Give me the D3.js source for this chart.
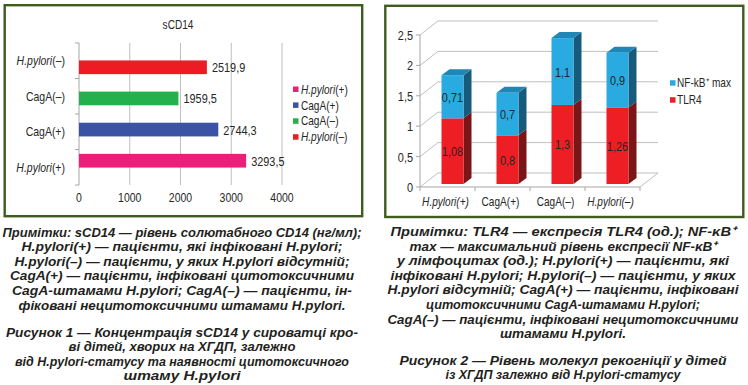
<!DOCTYPE html>
<html lang="uk">
<head>
<meta charset="UTF-8">
<title>sCD14, TLR4, NF-kB</title>
<script src="https://cdnjs.cloudflare.com/ajax/libs/d3/7.8.5/d3.min.js"></script>
<style>
    body { margin: 0; background: #fff; }
    svg { display: block; }
</style>
</head>
<body>
<svg id="fig" width="748" height="385"></svg>

<script>
    // --- data, figure 1 (sCD14, ng/ml)
    var groups1 = ['H.pylori(+)', 'CagA(+)', 'CagA(–)', 'H.pylori(–)'];
    var scd14 = [3293.5, 2744.3, 1959.5, 2519.9];
    var colors1 = ['#ed1e79', '#3a53a4', '#22b14c', '#ed1c24'];
    var ticks1 = [0, 1000, 2000, 3000, 4000];

    // --- data, figure 2 (TLR4 + NF-kB max, units)
    var groups2 = ['H.pylori(+)', 'CagA(+)', 'CagA(–)', 'H.pylori(–)'];
    var tlr4 = [1.08, 0.8, 1.3, 1.26];
    var nfkb = [0.71, 0.7, 1.1, 0.9];
    var ticks2 = [0, 0.5, 1, 1.5, 2, 2.5];

    var notes1 = [
        'Примітки: sCD14 — рівень солютабного CD14 (нг/мл);',
        'H.pylori(+) — пацієнти, які інфіковані H.pylori;',
        'H.pylori(–) — пацієнти, у яких H.pylori відсутній;',
        'CagA(+) — пацієнти, інфіковані цитотоксичними',
        'CagA-штамами H.pylori; CagA(–) — пацієнти, ін-',
        'фіковані нецитотоксичними штамами H.pylori.'
    ];
    var title1 = [
        'Рисунок 1 — Концентрація sCD14 у сироватці кро-',
        'ві дітей, хворих на ХГДП, залежно',
        'від H.pylori-статусу та наявності цитотоксичного',
        'штаму H.pylori'
    ];
    var notes2 = [
        'Примітки: TLR4 — експресія TLR4 (од.); NF-κB⁺',
        'max — максимальний рівень експресії NF-κB⁺',
        'у лімфоцитах (од.); H.pylori(+) — пацієнти, які',
        'інфіковані H.pylori; H.pylori(–) — пацієнти, у яких',
        'H.pylori відсутній; CagA(+) — пацієнти, інфіковані',
        'цитотоксичними CagA-штамами H.pylori;',
        'CagA(–) — пацієнти, інфіковані нецитотоксичними',
        'штамами H.pylori.'
    ];
    var title2 = [
        'Рисунок 2 — Рівень молекул рекогніції у дітей',
        'із ХГДП залежно від H.pylori-статусу'
    ];

    // measured line widths of the printed captions
    var notes1W = [359, 321, 335, 344, 340, 327];
    var title1W = [352, 227, 334, 117];
    var notes2W = [345, 307, 332, 345, 351, 274, 351, 126];
    var title2W = [327, 235];

    var FONT = '"Liberation Sans", Arial, sans-serif';
    var INK = '#231f20';
    var GRID = '#bfbfbf';
    var NARROW = 0.84; // the chart font is a condensed face

    var svg = d3.select('#fig');

    init();

    function init() {
        renderFrames();
        renderChart1();
        renderChart2();
        renderCaption(notes1, notes1W, 182, 236.5);
        renderCaption(title1, title1W, 182, 336.5);
        renderCaption(notes2, notes2W, 563, 236);
        renderCaption(title2, title2W, 563, 364.5);
    }

    function fmt(v) {
        return String(v).replace('.', ',');
    }

    // squeeze text horizontally to imitate the narrow face
    function narrow(sel) {
        sel.each(function () {
            var t = d3.select(this);
            var x = +t.attr('x') || 0;
            t.attr('x', x / NARROW).attr('transform', 'scale(' + NARROW + ',1)');
        });
    }

    function groupLabel(sel, allItalic) {
        sel.each(function (d) {
            var t = d3.select(this);
            if (d.indexOf('H.pylori') === 0) {
                t.append('tspan').attr('font-style', 'italic').text('H.pylori');
                t.append('tspan').attr('font-style', allItalic ? 'italic' : 'normal').text(d.slice(8));
            } else {
                t.append('tspan').text(d);
            }
        });
    }

    function renderFrames() {
        svg.append('rect')
            .attr('x', 4.7).attr('y', 5.2).attr('width', 357.5).attr('height', 211)
            .attr('fill', 'none').attr('stroke', '#3d5c1e').attr('stroke-width', 2.4);
        svg.append('rect')
            .attr('x', 385.3).attr('y', 5.8).attr('width', 358).attr('height', 211.2)
            .attr('fill', 'none').attr('stroke', '#3d5c1e').attr('stroke-width', 2.4);
    }

    function renderChart1() {
        var x = d3.scaleLinear().domain([0, 4000]).range([79, 282]);
        var y = d3.scaleBand().domain(groups1).range([185, 43]).padding(0.56);
        var yOuter = d3.scaleBand().domain(groups1).range([185, 43]);

        var g = svg.append('g').attr('font-family', FONT).attr('fill', '#262626');

        g.append('text')
            .attr('x', 178).attr('y', 29.5)
            .attr('text-anchor', 'middle').attr('font-size', '12px')
            .text('sCD14')
            .call(narrow);

        // vertical grid
        g.selectAll('.grid').data(ticks1.slice(1)).enter()
            .append('line')
            .attr('x1', x).attr('x2', x)
            .attr('y1', 43).attr('y2', 185)
            .attr('stroke', GRID).attr('stroke-width', 1);

        // category axis
        g.append('line')
            .attr('x1', x(0)).attr('x2', x(0)).attr('y1', 43).attr('y2', 185)
            .attr('stroke', '#a6a6a6');
        var bounds = groups1.map(function (d) { return yOuter(d); }).concat([185]);
        g.selectAll('.ytick').data(bounds).enter()
            .append('line')
            .attr('x1', x(0) - 4).attr('x2', x(0))
            .attr('y1', function (d) { return d; }).attr('y2', function (d) { return d; })
            .attr('stroke', '#a6a6a6');

        g.selectAll('.xlab').data(ticks1).enter()
            .append('text')
            .attr('x', x).attr('y', 202.5)
            .attr('text-anchor', 'middle').attr('font-size', '12.5px')
            .text(function (d) { return d; })
            .call(narrow);

        g.selectAll('.ylab').data(groups1).enter()
            .append('text')
            .attr('x', 65)
            .attr('y', function (d) { return yOuter(d) + yOuter.bandwidth() / 2 + 4.5; })
            .attr('text-anchor', 'end').attr('font-size', '12.5px')
            .call(groupLabel, false)
            .call(narrow);

        g.selectAll('.bar').data(groups1).enter()
            .append('rect')
            .attr('x', x(0))
            .attr('y', function (d) { return y(d); })
            .attr('width', function (d, i) { return x(scd14[i]) - x(0); })
            .attr('height', y.bandwidth())
            .attr('fill', function (d, i) { return colors1[i]; });

        g.selectAll('.val').data(groups1).enter()
            .append('text')
            .attr('x', function (d, i) { return x(scd14[i]) + 5; })
            .attr('y', function (d) { return y(d) + y.bandwidth() / 2 + 5; })
            .attr('font-size', '13px')
            .text(function (d, i) { return fmt(scd14[i]); })
            .call(narrow);

        // legend
        var leg = g.selectAll('.leg').data(groups1).enter()
            .append('g')
            .attr('transform', function (d, i) { return 'translate(293,' + (89.3 + i * 15.9) + ')'; });
        leg.append('rect')
            .attr('x', 0).attr('y', -2.8).attr('width', 5.5).attr('height', 5.5)
            .attr('fill', function (d, i) { return colors1[i]; });
        leg.append('text')
            .attr('x', 8).attr('y', 4.3).attr('font-size', '12px')
            .call(groupLabel, false)
            .call(narrow);
    }

    function renderChart2() {
        var x = d3.scaleBand().domain(groups2).range([420, 640]).paddingInner(0.6).paddingOuter(0.3);
        var xOuter = d3.scaleBand().domain(groups2).range([420, 640]);
        var y = d3.scaleLinear().domain([0, 2.5]).range([187, 35]);

        var wall = { dx: 18, dy: -14 };   // back wall depth
        var off = { dx: 5, dy: -3 };      // bar front plane
        var dep = { dx: 8, dy: -6 };      // bar depth

        var g = svg.append('g').attr('font-family', FONT).attr('fill', '#262626');

        // back wall grid + left wall diagonals
        g.selectAll('.grid').data(ticks2).enter()
            .append('polyline')
            .attr('points', function (d) {
                return [[420, y(d)], [420 + wall.dx, y(d) + wall.dy], [640 + wall.dx, y(d) + wall.dy]].join(' ');
            })
            .attr('fill', 'none').attr('stroke', GRID).attr('stroke-width', 1);
        g.append('line')
            .attr('x1', 640).attr('y1', y(0)).attr('x2', 640 + wall.dx).attr('y2', y(0) + wall.dy)
            .attr('stroke', GRID);

        // front axes
        g.append('line').attr('x1', 420).attr('x2', 420).attr('y1', y(2.5)).attr('y2', y(0))
            .attr('stroke', '#a6a6a6');
        g.append('line').attr('x1', 420).attr('x2', 640).attr('y1', y(0)).attr('y2', y(0))
            .attr('stroke', '#a6a6a6');
        g.selectAll('.ytick').data(ticks2).enter()
            .append('line')
            .attr('x1', 416).attr('x2', 420).attr('y1', y).attr('y2', y)
            .attr('stroke', '#a6a6a6');
        var bounds = groups2.map(function (d) { return xOuter(d); }).concat([640]);
        g.selectAll('.xtick').data(bounds).enter()
            .append('line')
            .attr('x1', function (d) { return d; }).attr('x2', function (d) { return d; })
            .attr('y1', y(0)).attr('y2', y(0) + 4)
            .attr('stroke', '#a6a6a6');

        g.selectAll('.ylab').data(ticks2).enter()
            .append('text')
            .attr('x', 413).attr('y', function (d) { return y(d) + 5; })
            .attr('text-anchor', 'end').attr('font-size', '13px')
            .text(fmt)
            .call(narrow);

        g.selectAll('.xlab').data(groups2).enter()
            .append('text')
            .attr('x', function (d) { return xOuter(d) + xOuter.bandwidth() / 2 - 2; })
            .attr('y', 206)
            .attr('text-anchor', 'middle').attr('font-size', '12px')
            .call(groupLabel, true)
            .call(narrow);

        // stacked 3D bars
        var series = [
            { name: 'TLR4', values: tlr4, front: '#ed1f24', side: '#7b1517', top: '#b0181c' },
            { name: 'NF-kB', values: nfkb, front: '#29abe2', side: '#175b7c', top: '#1f86b6' }
        ];
        var segs = [];
        groups2.forEach(function (gname, i) {
            var base = 0;
            series.forEach(function (s, k) {
                segs.push({ g: gname, v0: base, v1: base + s.values[i], v: s.values[i], s: s, last: k === series.length - 1 });
                base += s.values[i];
            });
        });

        var bars = g.selectAll('.seg').data(segs).enter().append('g');
        bars.append('polygon')
            .attr('points', function (d) {
                var x1 = x(d.g) + off.dx + x.bandwidth();
                var yt = y(d.v1) + off.dy, yb = y(d.v0) + off.dy;
                return [[x1, yt], [x1 + dep.dx, yt + dep.dy], [x1 + dep.dx, yb + dep.dy], [x1, yb]].join(' ');
            })
            .attr('fill', function (d) { return d.s.side; });
        bars.filter(function (d) { return d.last; })
            .append('polygon')
            .attr('points', function (d) {
                var x0 = x(d.g) + off.dx, x1 = x0 + x.bandwidth();
                var yt = y(d.v1) + off.dy;
                return [[x0, yt], [x0 + dep.dx, yt + dep.dy], [x1 + dep.dx, yt + dep.dy], [x1, yt]].join(' ');
            })
            .attr('fill', function (d) { return d.s.top; });
        bars.append('rect')
            .attr('x', function (d) { return x(d.g) + off.dx; })
            .attr('y', function (d) { return y(d.v1) + off.dy; })
            .attr('width', x.bandwidth())
            .attr('height', function (d) { return y(d.v0) - y(d.v1); })
            .attr('fill', function (d) { return d.s.front; });
        bars.append('text')
            .attr('x', function (d) { return x(d.g) + off.dx + x.bandwidth() / 2; })
            .attr('y', function (d) { return (y(d.v0) + y(d.v1)) / 2 + off.dy + 5; })
            .attr('text-anchor', 'middle').attr('font-size', '13px').attr('fill', '#262626')
            .text(function (d) { return fmt(d.v); })
            .call(narrow);

        // legend
        var leg = g.append('g').attr('transform', 'translate(670,83)');
        leg.append('rect').attr('x', 0).attr('y', -2.8).attr('width', 5.5).attr('height', 5.5).attr('fill', series[1].front);
        leg.append('text').attr('x', 7).attr('y', 4.3).attr('font-size', '12px')
            .text('NF-kB⁺ max')
            .call(narrow);
        leg.append('rect').attr('x', 0).attr('y', 14.2).attr('width', 5.5).attr('height', 5.5).attr('fill', series[0].front);
        leg.append('text').attr('x', 7).attr('y', 21.3).attr('font-size', '12px').text('TLR4').call(narrow);
    }

    function renderCaption(lines, widths, cx, y0) {
        svg.append('g')
            .attr('font-family', FONT).attr('font-weight', 'bold').attr('font-style', 'italic')
            .attr('font-size', '13px').attr('fill', INK)
            .selectAll('text').data(lines).enter()
            .append('text')
            .attr('x', cx)
            .attr('y', function (d, i) { return y0 + i * 14.6; })
            .attr('text-anchor', 'middle')
            .attr('textLength', function (d, i) { return widths[i]; })
            .attr('lengthAdjust', 'spacingAndGlyphs')
            .text(function (d) { return d; });
    }
</script>
</body>
</html>
